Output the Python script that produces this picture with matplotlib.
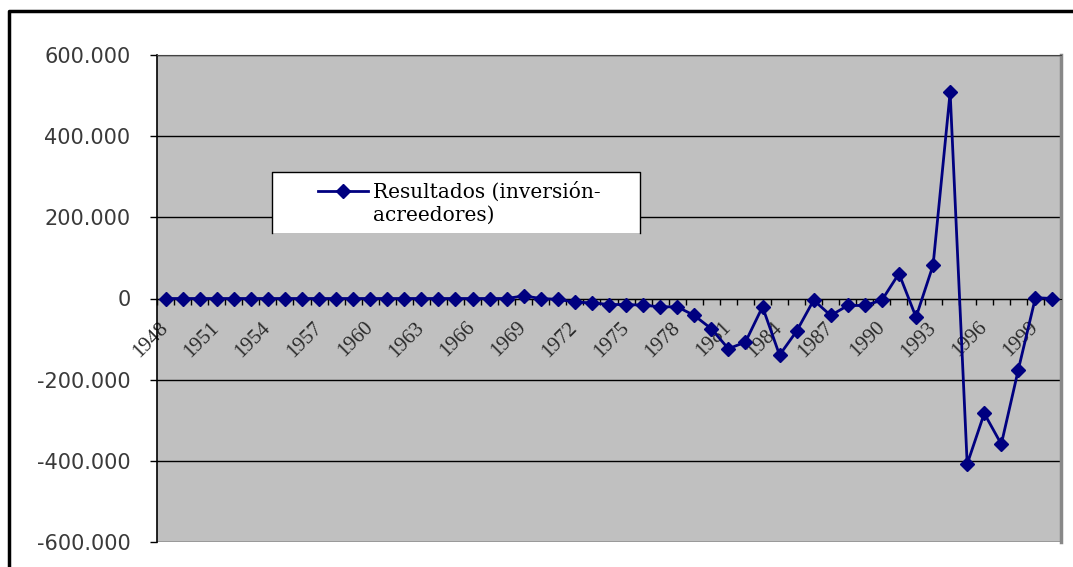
import matplotlib.pyplot as plt
from matplotlib.lines import Line2D
from matplotlib.patches import Polygon

years = list(range(1948, 2001))
resultados = [0, 0, 0, 0, 0, 0, 0, 0, 0, 0,
              0, 0, 0, 0, 0, 0, 0, 0, 0, 0,
              0, 6500, 0, -2000, -9000, -10600, -14800, -14800, -16400, -20500,
              -20500, -41800, -74600, -123800, -107400, -20500, -139400, -80400, -4100, -41800,
              -17200, -17200, -4100, 61500, -45900, 82000, 508000, -408000, -283000, -359000,
              -175000, 2000, 0]
serie_label = "Resultados (inversión-"
serie_label2 = "acreedores)"
ytick_vals = [-600000, -400000, -200000, 0, 200000, 400000, 600000]
ytick_labels = ["-600.000", "-400.000", "-200.000", "0", "200.000", "400.000", "600.000"]

W, H = 1073, 567
fig = plt.figure(figsize=(W / 100, H / 100), dpi=100)
fig.patch.set_facecolor("white")
ax = fig.add_axes([157 / W, 1 - 542 / H, (1061 - 157) / W, (542 - 55) / H])
ax.set_facecolor("#c0c0c0")

x = list(range(len(years)))
ax.plot(x, resultados, color="#000080", lw=2, marker="D", markersize=7,
        markerfacecolor="#000080", markeredgecolor="#000080", label=serie_label, zorder=3)

ax.set_xlim(-0.5, len(years) - 0.5)
ax.set_ylim(-600000, 600000)

# y axis
ax.set_yticks(ytick_vals)
ax.set_yticklabels(ytick_labels, fontsize=15, color="#3a3a3a", family="DejaVu Sans")
ax.tick_params(axis="y", length=5, width=1, color="black", pad=14)
ax.grid(axis="y", color="black", lw=1)
ax.set_axisbelow(True)

# x axis at zero, ticks between categories, labels every 3 years
ax.spines["bottom"].set_position(("data", 0))
ax.spines["bottom"].set_color("black")
ax.set_xticks([i - 0.5 for i in range(len(years) + 1)])
ax.set_xticklabels([])
ax.tick_params(axis="x", which="major", length=4, width=1, direction="out", color="black")
lab_idx = list(range(0, len(years), 3))
ax.set_xticks(lab_idx, minor=True)
ax.set_xticklabels([str(years[i]) for i in lab_idx], minor=True, rotation=45,
                   ha="right", va="center", rotation_mode="anchor",
                   fontsize=15, family="Liberation Serif", color="#2a2a2a")
ax.tick_params(axis="x", which="minor", length=0, pad=19)

ax.spines["left"].set_color("black")
ax.spines["left"].set_linewidth(1.2)
ax.spines["top"].set_color("#444444")
ax.spines["right"].set_color("#888888")
ax.spines["right"].set_linewidth(2.5)

# legend box (bottom edge not drawn, as in the original)
bx0, bx1, by0, by1 = 272 / W, 640 / W, 1 - 233 / H, 1 - 172 / H
fig.patches.append(Polygon([(bx0, by0), (bx0, by1), (bx1, by1), (bx1, by0)], closed=True,
                           transform=fig.transFigure, facecolor="white", edgecolor="none",
                           zorder=4))
fig.lines.append(Line2D([bx0, bx0, bx1, bx1], [by0, by1, by1, by0], transform=fig.transFigure,
                        color="black", lw=1, zorder=5))
handles, labels = ax.get_legend_handles_labels()
leg = fig.legend(handles, labels, loc="upper left", bbox_to_anchor=(318 / W, 1 - 182 / H),
                 bbox_transform=fig.transFigure, frameon=False,
                 prop={"family": "DejaVu Serif", "size": 14.5},
                 handlelength=2.5, borderpad=0, handletextpad=0.25, borderaxespad=0)
leg.set_zorder(6)
fig.canvas.draw()
tb = leg.get_texts()[0].get_window_extent()
fig.text(tb.x0 / W, tb.y0 / H - 0.007, serie_label2, ha="left", va="top",
         family="DejaVu Serif", fontsize=14.5, zorder=7)

# outer chart border
fig.lines.append(Line2D([9 / W, 9 / W, 1.05], [-0.05, 1 - 11 / H, 1 - 11 / H],
                        transform=fig.transFigure, color="black", lw=2.5))

fig.savefig("out.png", dpi=100)
